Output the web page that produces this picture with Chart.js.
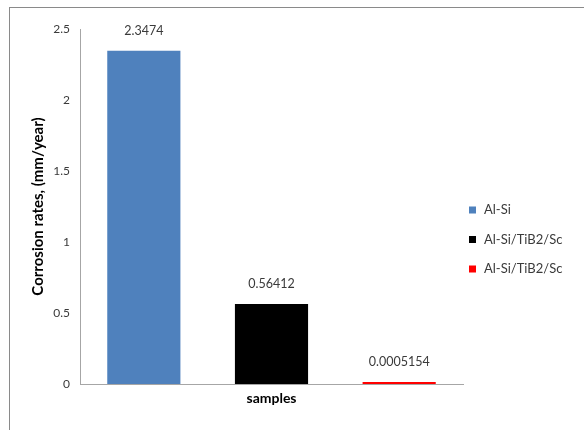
<!DOCTYPE html>
<html>
<head>
<meta charset="utf-8">
<title>Corrosion rates</title>
<script src="https://cdn.jsdelivr.net/npm/chart.js@4/dist/chart.umd.min.js"></script>
<style>
  html, body { margin: 0; padding: 0; background: #fff; }
  #wrap { position: relative; width: 584px; height: 430px; overflow: hidden; }
  #frame {
    position: absolute; left: 9px; top: 7px; right: -2px; bottom: -2px;
    border-top: 1px solid #8a8a8a; border-left: 1px solid #8a8a8a;
  }
  #chart { position: absolute; left: 0; top: 0; }
</style>
</head>
<body>
<div id="wrap">
  <div id="frame"></div>
  <canvas id="chart" width="584" height="430"></canvas>
</div>
<script>
// data
const categories = ["samples"];
const seriesNames = ["Al-Si", "Al-Si/TiB2/Sc", "Al-Si/TiB2/Sc"];
const seriesValues = [2.3474, 0.56412, 0.0005154];
const seriesColors = ["#4f81bd", "#000000", "#ff0000"];
const yTickValues = [0, 0.5, 1, 1.5, 2, 2.5];

const FONT = "Lato, 'Open Sans', sans-serif";
const TEXT = "#3a3a3a";

// value printed above each bar
const valueLabels = {
  id: "valueLabels",
  afterDatasetsDraw(chart) {
    const ctx = chart.ctx;
    ctx.save();
    ctx.font = "12.5px " + FONT;
    ctx.fillStyle = TEXT;
    ctx.textAlign = "center";
    ctx.textBaseline = "middle";
    chart.data.datasets.forEach((ds, i) => {
      const bar = chart.getDatasetMeta(i).data[0];
      if (!bar) return;
      ctx.fillText(String(ds.data[0]), bar.x, bar.y - 20);
    });
    ctx.restore();
  }
};

// legend sits inside the plot's right edge, so it is drawn by hand
const sideLegend = {
  id: "sideLegend",
  afterDraw(chart) {
    const ctx = chart.ctx;
    const x = 469, rowTop = 210, rowGap = 29.5;
    ctx.save();
    ctx.font = "13px " + FONT;
    ctx.textBaseline = "middle";
    ctx.textAlign = "left";
    chart.data.datasets.forEach((ds, i) => {
      const y = rowTop + i * rowGap;
      ctx.fillStyle = ds.backgroundColor;
      ctx.fillRect(x, y - 3.5, 7, 7);
      ctx.fillStyle = TEXT;
      ctx.fillText(ds.label, x + 15, y);
    });
    ctx.restore();
  }
};

const datasets = seriesNames.map((name, i) => ({
  label: name,
  data: [seriesValues[i]],
  backgroundColor: seriesColors[i],
  borderWidth: 0,
  barPercentage: 0.573,
  categoryPercentage: 1.0,
  minBarLength: i === 2 ? 2 : 0,
}));

new Chart(document.getElementById("chart"), {
  type: "bar",
  data: { labels: categories, datasets: datasets },
  plugins: [valueLabels, sideLegend],
  options: {
    responsive: false,
    animation: false,
    layout: { padding: { top: 29, right: 121, bottom: 0, left: 0 } },
    plugins: {
      legend: { display: false },
      tooltip: { enabled: false },
    },
    scales: {
      x: {
        grid: { display: false, drawTicks: false },
        border: { display: true, color: "#a6a6a6", width: 1 },
        ticks: {
          color: "#000000",
          padding: 6,
          font: { family: FONT, size: 14, weight: "bold" },
        },
        afterFit(scale) { scale.height = 46; },
      },
      y: {
        min: 0,
        max: 2.5,
        afterBuildTicks(scale) {
          scale.ticks = yTickValues.map(v => ({ value: v }));
        },
        grid: { display: false, drawTicks: false },
        border: { display: true, color: "#a6a6a6", width: 1 },
        ticks: {
          color: TEXT,
          padding: 10,
          font: { family: FONT, size: 12 },
          callback: v => String(v),
        },
        title: {
          display: true,
          text: "Corrosion rates, (mm/year)",
          color: "#000000",
          padding: { top: 29, bottom: 0 },
          font: { family: FONT, size: 15, weight: "bold" },
        },
        afterFit(scale) { scale.width = 80; },
      },
    },
  },
});
</script>
</body>
</html>
